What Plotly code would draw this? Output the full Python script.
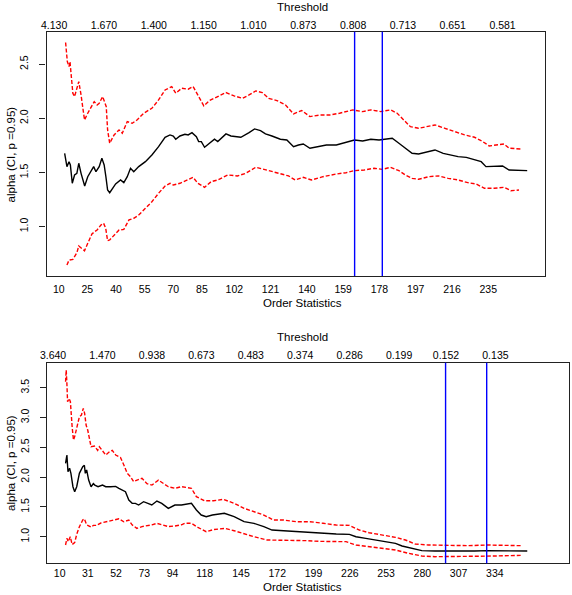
import plotly.graph_objects as go

# ---------------- Top panel data ----------------
top_est_x = [13.1, 14.3, 15.4, 16.1, 17.1, 18.3, 19.5, 20.5, 21.7, 23.6, 25.2, 26.9, 28.3, 29.5, 31.2, 32.6,
             33.8, 34.7, 35.6, 36.7, 38.1, 39.8, 42.4, 44.1, 45.9, 47.6, 49.3, 51.9, 55.4, 58.8, 62.3,
             65.7, 68.3, 70.0, 71.3, 73.5, 76.1, 77.8, 79.8, 82.1, 83.3, 84.7, 86.4, 89.0, 91.6, 93.3,
             97.6, 100.2, 103.6, 105.4, 109.7, 112.6, 115.7, 118.3, 121.7, 126.1, 129.5, 133.0, 135.6,
             138.1, 141.6, 145.0, 150.2, 155.4, 160.5, 164.9, 169.2, 173.5, 177.8, 181.2, 184.7, 188.2,
             191.6, 195.1, 198.5, 202.8, 207.1, 211.4, 215.7, 219.2, 223.5, 227.8, 231.3, 233.8, 238.1,
             242.5, 245.9, 250.2, 255.4]
top_est = [1.677, 1.554, 1.600, 1.569, 1.400, 1.477, 1.492, 1.585, 1.492, 1.375, 1.461, 1.507, 1.554, 1.507,
           1.554, 1.631, 1.569, 1.461, 1.338, 1.313, 1.354, 1.394, 1.431, 1.406, 1.461, 1.539, 1.507,
           1.554, 1.600, 1.662, 1.738, 1.825, 1.847, 1.837, 1.807, 1.837, 1.853, 1.847, 1.868, 1.831,
           1.785, 1.785, 1.733, 1.770, 1.807, 1.785, 1.856, 1.837, 1.831, 1.825, 1.868, 1.902, 1.887,
           1.856, 1.837, 1.807, 1.800, 1.738, 1.754, 1.763, 1.724, 1.738, 1.754, 1.754, 1.776, 1.800,
           1.791, 1.807, 1.800, 1.807, 1.816, 1.770, 1.724, 1.677, 1.671, 1.692, 1.708, 1.677, 1.662,
           1.646, 1.640, 1.615, 1.600, 1.554, 1.554, 1.560, 1.523, 1.523, 1.517]

top_up_x = [13.6, 14.5, 15.4, 15.9, 16.6, 17.4, 18.3, 19.5, 20.5, 21.7, 23.5, 25.2, 26.9, 28.6, 30.1, 31.2,
            33.0, 34.9, 35.6, 36.7, 39.0, 41.6, 43.3, 45.9, 48.5, 51.0, 54.5, 58.8, 62.3, 65.7, 69.2,
            71.3, 74.4, 77.8, 80.4, 82.9, 86.0, 89.0, 93.3, 97.6, 101.9, 106.2, 109.7, 113.2, 116.6,
            120.0, 124.3, 128.7, 133.0, 137.3, 141.6, 146.8, 152.0, 157.1, 164.0, 169.2, 173.5, 178.7,
            183.8, 187.3, 190.7, 194.2, 198.5, 203.7, 207.1, 212.3, 217.5, 222.6, 227.8, 232.1, 235.5,
            239.8, 243.3, 245.9, 252.0]
top_up = [2.700, 2.524, 2.478, 2.524, 2.385, 2.232, 2.201, 2.293, 2.339, 2.216, 1.985, 2.047, 2.108, 2.154,
          2.123, 2.139, 2.201, 2.108, 1.893, 1.770, 1.847, 1.893, 1.862, 1.970, 1.954, 1.985, 2.047,
          2.093, 2.170, 2.262, 2.293, 2.232, 2.278, 2.269, 2.293, 2.216, 2.115, 2.164, 2.201, 2.238,
          2.207, 2.185, 2.216, 2.253, 2.238, 2.185, 2.164, 2.124, 2.041, 2.072, 2.016, 2.031, 2.031,
          2.047, 2.078, 2.062, 2.078, 2.062, 2.078, 2.047, 1.985, 1.923, 1.908, 1.929, 1.939, 1.908,
          1.877, 1.847, 1.825, 1.785, 1.745, 1.754, 1.763, 1.724, 1.717]

top_lo_x = [14.3, 15.4, 17.4, 18.3, 19.5, 20.5, 21.7, 23.5, 25.2, 27.4, 28.6, 30.1, 32.1, 33.5, 34.6, 35.6,
            36.7, 39.0, 41.6, 44.1, 46.8, 49.3, 51.9, 55.4, 58.8, 62.3, 65.7, 68.3, 70.0, 73.5, 77.0,
            80.4, 82.9, 86.4, 89.8, 93.3, 98.5, 103.6, 107.9, 113.2, 117.5, 121.7, 126.1, 130.4, 133.8,
            138.1, 142.4, 148.4, 155.4, 160.5, 164.9, 170.0, 175.2, 179.5, 183.8, 188.2, 191.6, 195.1,
            198.5, 203.7, 208.9, 214.0, 219.2, 224.3, 228.6, 233.0, 238.1, 243.3, 246.8, 251.1]
top_lo = [0.645, 0.691, 0.697, 0.720, 0.759, 0.821, 0.800, 0.777, 0.846, 0.932, 0.950, 0.969, 1.015, 1.031,
          0.985, 0.870, 0.877, 0.922, 0.969, 0.975, 1.062, 1.077, 1.107, 1.169, 1.230, 1.308, 1.375,
          1.400, 1.384, 1.400, 1.431, 1.455, 1.400, 1.363, 1.415, 1.431, 1.477, 1.468, 1.492, 1.548,
          1.529, 1.507, 1.486, 1.468, 1.431, 1.455, 1.431, 1.461, 1.486, 1.498, 1.517, 1.523, 1.539,
          1.529, 1.548, 1.517, 1.477, 1.446, 1.437, 1.461, 1.468, 1.446, 1.431, 1.406, 1.394, 1.354,
          1.354, 1.363, 1.332, 1.338]

top_vlines = [165, 179.5]
top_order_ticks = [10, 25, 40, 55, 70, 85, 102, 121, 140, 159, 178, 197, 216, 235]
top_thresh_pos = [7.6, 33.7, 59.8, 85.9, 112.0, 138.1, 164.2, 190.3, 216.4, 242.5]
top_thresh_labels = ["4.130", "1.670", "1.400", "1.150", "1.010", "0.873", "0.808", "0.713", "0.651", "0.581"]
top_yticks = [1.0, 1.5, 2.0, 2.5]

# ---------------- Bottom panel data ----------------
bot_est_x = [14.4, 15.4, 16.2, 17.4, 18.4, 19.9, 21.2, 22.7, 24.7, 25.9, 27.2, 28.4, 29.1, 30.1, 31.6, 33.4,
             35.1, 36.2, 38.6, 41.9, 44.3, 48.0, 51.7, 54.1, 56.6, 59.0, 61.5, 64.0, 66.4, 68.8, 72.5,
             76.1, 78.6, 82.4, 86.0, 90.9, 95.8, 100.7, 108.1, 111.8, 115.4, 119.1, 123.7, 132.6, 139.9,
             147.3, 154.6, 162.0, 168.1, 176.7, 186.5, 196.3, 206.1, 215.9, 225.7, 230.6, 237.9, 245.3,
             252.6, 260.0, 264.9, 269.8, 274.7, 279.6, 289.4, 299.2, 309.0, 318.8, 328.7, 338.5, 348.3,
             358.1]
bot_est = [2.232, 2.371, 2.091, 2.148, 2.064, 1.839, 1.755, 1.839, 2.064, 2.120, 2.174, 2.200, 2.064, 2.120,
           1.951, 1.839, 1.890, 1.866, 1.839, 1.866, 1.839, 1.839, 1.845, 1.812, 1.784, 1.755, 1.616,
           1.560, 1.560, 1.532, 1.588, 1.560, 1.532, 1.599, 1.560, 1.476, 1.532, 1.532, 1.560, 1.448,
           1.364, 1.336, 1.364, 1.393, 1.336, 1.252, 1.225, 1.168, 1.112, 1.101, 1.084, 1.067, 1.056,
           1.045, 1.040, 1.000, 0.972, 0.945, 0.917, 0.889, 0.844, 0.822, 0.788, 0.766, 0.760, 0.760,
           0.749, 0.760, 0.766, 0.766, 0.766, 0.760]

bot_up_x = [14.4, 14.9, 15.4, 15.9, 17.0, 18.0, 19.3, 20.3, 21.2, 22.7, 24.7, 26.2, 27.6, 28.6, 29.7, 30.9,
            32.1, 33.4, 35.9, 38.3, 39.6, 41.9, 44.3, 46.8, 49.2, 51.7, 55.3, 57.8, 60.3, 62.7, 65.1,
            67.6, 71.3, 75.0, 78.7, 83.5, 87.2, 90.9, 95.8, 100.7, 108.1, 111.8, 117.9, 124.5, 131.9,
            139.9, 147.3, 154.6, 162.0, 169.3, 176.7, 186.5, 196.3, 206.1, 215.9, 225.7, 233.1, 240.4,
            250.2, 260.0, 267.4, 274.7, 284.5, 299.2, 313.9, 328.7, 343.4, 353.2]
bot_up = [3.600, 3.797, 3.570, 3.265, 3.320, 3.265, 2.846, 2.622, 2.680, 2.846, 3.013, 3.040, 3.154, 3.070,
          2.874, 2.790, 2.622, 2.510, 2.520, 2.450, 2.510, 2.450, 2.371, 2.420, 2.450, 2.371, 2.330,
          2.203, 2.064, 2.010, 1.923, 1.950, 1.980, 1.890, 1.867, 1.950, 1.890, 1.839, 1.812, 1.840,
          1.812, 1.671, 1.604, 1.604, 1.627, 1.560, 1.476, 1.420, 1.364, 1.280, 1.280, 1.252, 1.252,
          1.225, 1.196, 1.190, 1.112, 1.067, 1.028, 0.990, 0.945, 0.878, 0.861, 0.850, 0.850, 0.861,
          0.861, 0.850]

bot_lo_x = [14.4, 15.4, 16.4, 17.9, 19.3, 21.2, 22.7, 24.7, 27.2, 28.4, 30.1, 32.1, 33.4, 35.1, 37.1, 40.7,
            44.3, 48.0, 54.1, 57.8, 61.5, 63.9, 67.5, 71.3, 75.0, 78.7, 82.4, 86.0, 90.9, 95.8, 100.7,
            103.2, 108.1, 112.9, 119.1, 124.5, 133.1, 139.9, 147.3, 154.6, 164.4, 174.2, 184.0, 193.8,
            203.6, 213.4, 223.2, 230.6, 240.4, 250.2, 260.0, 269.8, 279.6, 289.4, 304.1, 318.8, 333.5,
            353.2]
bot_lo = [0.861, 0.973, 0.917, 1.000, 0.870, 0.900, 1.040, 1.168, 1.280, 1.300, 1.200, 1.180, 1.160, 1.190,
          1.190, 1.230, 1.250, 1.270, 1.300, 1.250, 1.280, 1.200, 1.140, 1.170, 1.180, 1.200, 1.225,
          1.200, 1.170, 1.180, 1.200, 1.225, 1.225, 1.157, 1.084, 1.120, 1.140, 1.100, 1.045, 1.000,
          0.945, 0.945, 0.934, 0.934, 0.922, 0.917, 0.917, 0.861, 0.833, 0.805, 0.778, 0.721, 0.676,
          0.665, 0.665, 0.676, 0.676, 0.687]

bot_vlines = [297.3, 327.9]
bot_order_ticks = [10, 31, 52, 73, 94, 118, 145, 172, 199, 226, 253, 280, 307, 334]
bot_thresh_pos = [5.1, 41.9, 78.7, 115.5, 152.3, 189.1, 225.9, 262.7, 297.6, 334.4]
bot_thresh_labels = ["3.640", "1.470", "0.938", "0.673", "0.483", "0.374", "0.286", "0.199", "0.152", "0.135"]
bot_yticks = [1.0, 1.5, 2.0, 2.5, 3.0, 3.5]

# ---------------- Figure ----------------
W, H = 572, 595
FONT = "Liberation Sans, Arial, Helvetica, sans-serif"
RED = "#ff0000"
DASH = "4px,2px"

fig = go.Figure()

def add_panel(xe, ye, xu, yu, xl, yl, xa, ya):
    fig.add_trace(go.Scatter(x=xu, y=yu, mode="lines", xaxis=xa, yaxis=ya,
                             line=dict(color=RED, width=1.4, dash=DASH), showlegend=False))
    fig.add_trace(go.Scatter(x=xl, y=yl, mode="lines", xaxis=xa, yaxis=ya,
                             line=dict(color=RED, width=1.4, dash=DASH), showlegend=False))
    fig.add_trace(go.Scatter(x=xe, y=ye, mode="lines", xaxis=xa, yaxis=ya,
                             line=dict(color="black", width=1.4), showlegend=False))

add_panel(top_est_x, top_est, top_up_x, top_up, top_lo_x, top_lo, "x", "y")
add_panel(bot_est_x, bot_est, bot_up_x, bot_up, bot_lo_x, bot_lo, "x2", "y2")

def px_x(p):
    return p / W

def px_y(p):
    return 1 - p / H

top_xr = [3.6, 264.9]
top_yr = [0.544, 2.80]
bot_xr = [0.74, 389.2]
bot_yr = [0.554, 3.92]

top_xd = [px_x(40), px_x(545)]
top_yd = [px_y(276), px_y(31.7)]
bot_xd = [px_x(40.7), px_x(569)]
bot_yd = [px_y(563.3), px_y(362.7)]

tickfont = dict(family=FONT, size=10.5, color="black")
line_style = dict(showline=True, linecolor="#222222", linewidth=1.3, mirror=True,
                  showgrid=False, zeroline=False)

fig.update_layout(
    width=W, height=H,
    margin=dict(l=0, r=0, t=0, b=0),
    paper_bgcolor="white", plot_bgcolor="white",
    font=dict(family=FONT, color="black"),
    xaxis=dict(domain=top_xd, range=top_xr, anchor="y", tickvals=top_order_ticks,
               ticktext=[str(v) for v in top_order_ticks], ticks="", tickfont=tickfont,
               ticklabelstandoff=3, **line_style),
    yaxis=dict(domain=top_yd, range=top_yr, anchor="x", tickvals=top_yticks,
               ticktext=[f"{v:.1f}" for v in top_yticks], ticks="outside", ticklen=6,
               tickcolor="#222222", tickangle=-90, tickfont=tickfont, ticklabelstandoff=7,
               **line_style),
    xaxis3=dict(overlaying="x", anchor="y", side="top", range=top_xr, tickvals=top_thresh_pos,
                ticktext=top_thresh_labels, ticks="", tickfont=tickfont, showgrid=False,
                zeroline=False, showline=False, ticklabelstandoff=0),
    xaxis2=dict(domain=bot_xd, range=bot_xr, anchor="y2", tickvals=bot_order_ticks,
                ticktext=[str(v) for v in bot_order_ticks], ticks="", tickfont=tickfont,
                ticklabelstandoff=0, **line_style),
    yaxis2=dict(domain=bot_yd, range=bot_yr, anchor="x2", tickvals=bot_yticks,
                ticktext=[f"{v:.1f}" for v in bot_yticks], ticks="outside", ticklen=6,
                tickcolor="#222222", tickangle=-90, tickfont=tickfont, ticklabelstandoff=7,
                **line_style),
    xaxis4=dict(overlaying="x2", anchor="y2", side="top", range=bot_xr, tickvals=bot_thresh_pos,
                ticktext=bot_thresh_labels, ticks="", tickfont=tickfont, showgrid=False,
                zeroline=False, showline=False, ticklabelstandoff=1),
)

# invisible traces so overlay axes render
fig.add_trace(go.Scatter(x=[top_xr[0]], y=[top_yr[0]], xaxis="x3", yaxis="y", mode="markers",
                         marker=dict(opacity=0), showlegend=False, hoverinfo="skip"))
fig.add_trace(go.Scatter(x=[bot_xr[0]], y=[bot_yr[0]], xaxis="x4", yaxis="y2", mode="markers",
                         marker=dict(opacity=0), showlegend=False, hoverinfo="skip"))

for v in top_vlines:
    fig.add_shape(type="line", xref="x", yref="y domain", x0=v, x1=v, y0=0, y1=1,
                  line=dict(color="#0000ff", width=1.4))
for v in bot_vlines:
    fig.add_shape(type="line", xref="x2", yref="y2 domain", x0=v, x1=v, y0=0, y1=1,
                  line=dict(color="#0000ff", width=1.4))

title_font = dict(family=FONT, size=11.5, color="black")
def ann(text, x, y, angle=0):
    fig.add_annotation(text=text, x=px_x(x), y=px_y(y), xref="paper", yref="paper",
                       showarrow=False, font=title_font, textangle=angle,
                       xanchor="center", yanchor="middle")

ann("Threshold", 299, 7)
ann("Order Statistics", 299, 303)
ann("Threshold", 299, 337)
ann("Order Statistics", 299, 587)
ann("alpha (CI, p =0.95)", 4.5, 154, -90)
ann("alpha (CI, p =0.95)", 4.0, 463, -90)

fig.write_html("out.html",
               config={"displayModeBar": False},
               post_script="document.body.style.margin='0';document.body.style.padding='0';"
                           "document.documentElement.style.overflow='hidden';")
